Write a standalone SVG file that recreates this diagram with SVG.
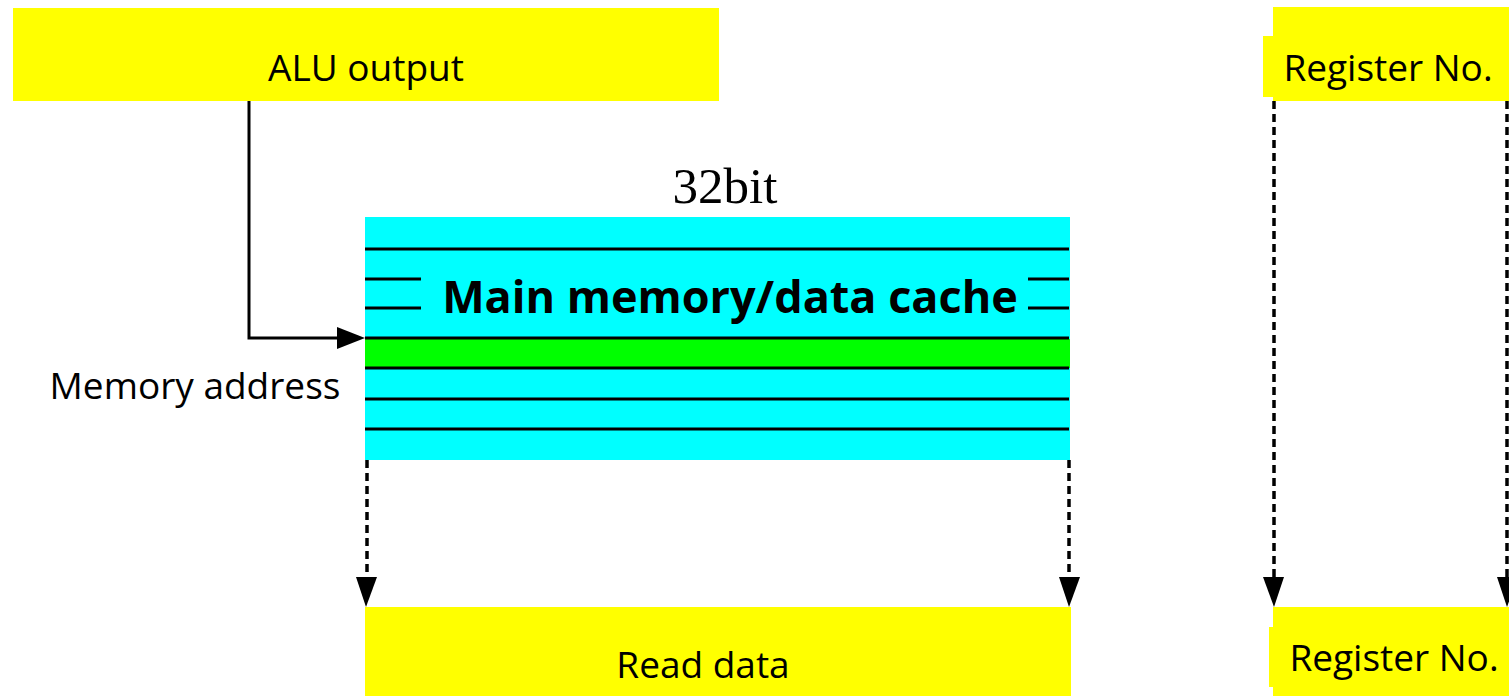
<svg xmlns="http://www.w3.org/2000/svg" width="1509" height="696" viewBox="0 0 1509 696">
  <style>
    .box { fill: #ffff00; }
    .lbl { font-family: "Open Sans", "Liberation Sans", sans-serif; font-size: 37px; fill: #000; }
    .title { font-family: "Open Sans", "Liberation Sans", sans-serif; font-size: 45px; font-weight: bold; fill: #000; }
    .serif { font-family: "Liberation Serif", serif; font-size: 51px; fill: #000; }
    .row { stroke: #000; stroke-width: 3; }
    .solid { fill: none; stroke: #000; stroke-width: 3; }
    .dash { fill: none; stroke: #000; stroke-width: 3.5; stroke-dasharray: 8 5; }
    .head { fill: #000; }
  </style>
  <rect width="1509" height="696" fill="#fff"/>

  <!-- source of the address -->
  <g id="alu-output">
    <rect class="box" x="13" y="8" width="706" height="93"/>
    <text class="lbl" x="366" y="81" text-anchor="middle">ALU output</text>
  </g>

  <!-- memory array with rows -->
  <g id="memory">
    <text class="serif" x="725" y="203" text-anchor="middle">32bit</text>
    <rect x="365" y="217" width="705" height="243" fill="#00ffff"/>
    <rect x="365" y="339" width="705" height="29" fill="#00ff00"/>
    <line class="row" x1="365" y1="249" x2="1069" y2="249"/>
    <line class="row" x1="365" y1="279" x2="421" y2="279"/>
    <line class="row" x1="1028" y1="279" x2="1069" y2="279"/>
    <line class="row" x1="365" y1="308" x2="421" y2="308"/>
    <line class="row" x1="1028" y1="308" x2="1069" y2="308"/>
    <line class="row" x1="365" y1="338" x2="1069" y2="338"/>
    <line class="row" x1="365" y1="368" x2="1069" y2="368"/>
    <line class="row" x1="365" y1="399" x2="1069" y2="399"/>
    <line class="row" x1="365" y1="429" x2="1069" y2="429"/>
    <text class="title" x="730" y="313" text-anchor="middle">Main memory/data cache</text>
  </g>

  <g id="memory-address">
    <text class="lbl" x="195" y="399" text-anchor="middle">Memory address</text>
  </g>

  <g id="read-data">
    <rect class="box" x="365" y="607" width="706" height="89"/>
    <text class="lbl" x="703" y="678" text-anchor="middle">Read data</text>
  </g>

  <g id="register-top">
    <rect class="box" x="1273" y="7" width="236" height="94"/>
    <rect class="box" x="1263" y="36" width="30" height="61"/>
    <text class="lbl" x="1388" y="81" text-anchor="middle">Register No.</text>
  </g>

  <g id="register-bottom">
    <rect class="box" x="1273" y="607" width="236" height="89"/>
    <rect class="box" x="1269" y="627" width="30" height="60"/>
    <text class="lbl" x="1394" y="671" text-anchor="middle">Register No.</text>
  </g>

  <!-- connectors -->
  <g id="connectors">
    <polyline class="solid" points="249,101 249,338 340,338"/>
    <polygon class="head" points="337,327 365,338 337,349"/>

    <line class="dash" x1="367" y1="460" x2="367" y2="578"/>
    <polygon class="head" points="356,577 377,577 366,607"/>
    <line class="dash" x1="1069" y1="460" x2="1069" y2="578"/>
    <polygon class="head" points="1059,577 1080,577 1069,607"/>

    <line class="dash" x1="1274" y1="101" x2="1274" y2="578"/>
    <polygon class="head" points="1263,577 1284,577 1274,607"/>
    <line class="dash" x1="1507" y1="101" x2="1507" y2="578"/>
    <polygon class="head" points="1497,577 1518,577 1507,607"/>
  </g>
</svg>
